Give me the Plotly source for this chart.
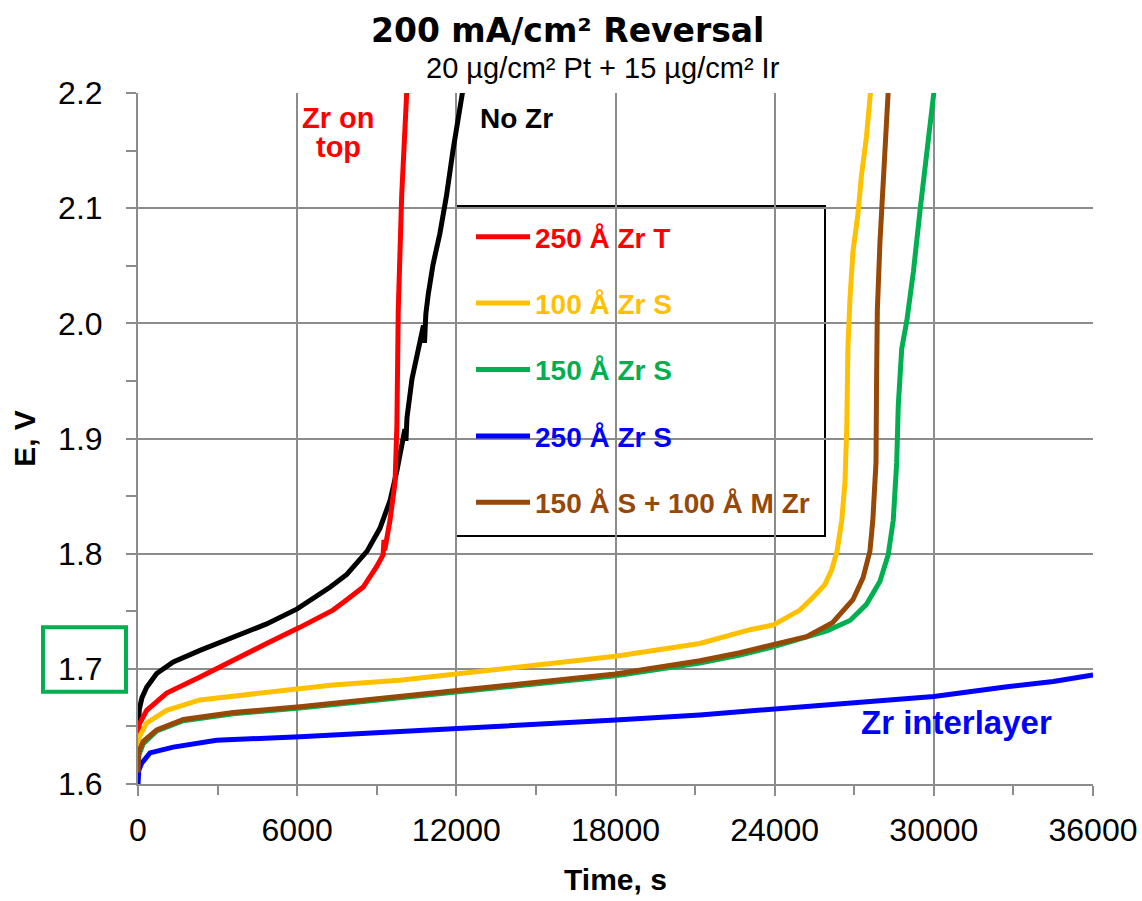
import plotly.graph_objects as go

# ---------------- data ----------------
nozr_t = [0, 50, 150, 327, 704, 1330, 2337, 3590, 4850, 6000, 6600, 7250, 7870, 8630,
          9120, 9500, 9760, 9940, 10060, 10100, 10140, 10330, 10520, 10760, 10800, 10850,
          10940, 11120, 11380, 11630, 11880, 12130, 12300]
nozr_v = [1.645, 1.665, 1.675, 1.684, 1.696, 1.706, 1.716, 1.728, 1.739, 1.752, 1.761,
          1.771, 1.782, 1.802, 1.822, 1.846, 1.872, 1.895, 1.908, 1.898, 1.918, 1.952, 1.972,
          1.998, 1.983, 2.008, 2.025, 2.051, 2.078, 2.111, 2.151, 2.184, 2.21]

zrT_t = [0, 50, 327, 1080, 2337, 3590, 4850, 6100, 7350, 7870, 8490, 9000, 9240, 9270, 9300,
         9500, 9690, 9760, 9810, 9940, 10150]
zrT_v = [1.640, 1.652, 1.664, 1.679, 1.693, 1.708, 1.722, 1.736, 1.751, 1.760, 1.771, 1.789,
         1.799, 1.812, 1.803, 1.829, 1.862, 1.912, 2.011, 2.111, 2.21]

zr100S_t = [0, 30, 327, 1080, 2337, 4850, 7350, 9860, 12000, 15000, 18000, 21180, 23070, 23940,
            24950, 25440, 25890, 26150, 26350, 26530, 26650, 26720, 26760, 26840, 26950, 27140,
            27270, 27460, 27650]
zr100S_v = [1.625, 1.640, 1.653, 1.664, 1.673, 1.680, 1.686, 1.690, 1.6955, 1.703, 1.711, 1.722,
            1.734, 1.738, 1.751, 1.762, 1.773, 1.786, 1.802, 1.829, 1.862, 1.912, 1.978, 2.022,
            2.062, 2.095, 2.128, 2.162, 2.21]

zr150S_t = [0, 30, 200, 704, 1710, 3590, 6100, 8630, 9860, 12000, 15000, 18000, 21180, 22690,
            23940, 25200, 25970, 26840, 27460, 27970, 28280, 28470, 28600, 28660, 28790, 28980,
            29230, 29480, 29730, 30050]
zr150S_v = [1.605, 1.625, 1.635, 1.646, 1.655, 1.661, 1.666, 1.672, 1.675, 1.680, 1.687, 1.694,
            1.705, 1.712, 1.719, 1.727, 1.733, 1.742, 1.756, 1.776, 1.799, 1.829, 1.879, 1.929,
            1.978, 2.002, 2.045, 2.098, 2.144, 2.21]

zr250S_t = [0, 30, 137, 452, 1330, 2960, 6100, 9860, 12000, 15000, 18000, 21180, 22690, 24000,
            27000, 30000, 32760, 34500, 36000]
zr250S_v = [1.600, 1.612, 1.618, 1.627, 1.632, 1.638, 1.641, 1.6454, 1.6474, 1.651, 1.6555,
            1.660, 1.6628, 1.665, 1.670, 1.676, 1.6845, 1.689, 1.6946]

zrSM_t = [0, 30, 200, 704, 1710, 3590, 6100, 8630, 9860, 12000, 15000, 18000, 21180, 22690,
          23940, 25200, 26180, 26950, 27330, 27590, 27700, 27820, 27840, 27870, 27970, 28090,
          28200, 28300]
zrSM_v = [1.610, 1.628, 1.637, 1.647, 1.656, 1.662, 1.667, 1.673, 1.676, 1.681, 1.688, 1.6955,
          1.707, 1.714, 1.721, 1.728, 1.740, 1.760, 1.779, 1.802, 1.829, 1.879, 1.945, 2.011,
          2.071, 2.118, 2.162, 2.21]

series = [
    ("250 Å Zr T", zrT_t, zrT_v, "#FF0000"),
    ("100 Å Zr S", zr100S_t, zr100S_v, "#FFC000"),
    ("150 Å Zr S", zr150S_t, zr150S_v, "#00B050"),
    ("250 Å Zr S", zr250S_t, zr250S_v, "#0000FF"),
    ("150 Å S + 100 Å M Zr", zrSM_t, zrSM_v, "#974706"),
]

x_ticks = [0, 6000, 12000, 18000, 24000, 30000, 36000]
y_ticks = [1.6, 1.7, 1.8, 1.9, 2.0, 2.1, 2.2]

# ---------------- layout helpers (pixel -> paper) ----------------
L, R, T, B = 138, 1093, 93, 784
PW, PH = R - L, B - T


def px(xp):
    return (xp - L) / PW


def py(yp):
    return (B - yp) / PH


GRID = "#8c8c8c"
fig = go.Figure()

fig.add_trace(go.Scatter(x=nozr_t, y=nozr_v, mode="lines", name="No Zr",
                         line=dict(color="#000000", width=5), showlegend=False))

for i, (name, t, v, col) in enumerate(series):
    fig.add_trace(go.Scatter(
        x=t, y=v, mode="lines",
        name=f"<span style='color:{col}'><b>{name}</b></span>",
        legendgroup=f"g{i}",
        line=dict(color=col, width=5)))

fig.update_layout(
    width=1142, height=901,
    margin=dict(l=L, r=1142 - R, t=T, b=901 - B, autoexpand=False),
    plot_bgcolor="white", paper_bgcolor="white",
    font=dict(family="Liberation Sans", color="black"),
    legend=dict(
        x=px(471), y=py(212), xanchor="left", yanchor="top",
        bgcolor="rgba(0,0,0,0)", borderwidth=0,
        font=dict(family="Liberation Sans", size=28),
        tracegroupgap=27, traceorder="grouped", itemwidth=54,
    ),
    xaxis=dict(
        range=[0, 36000], tickvals=x_ticks, ticktext=[str(v) for v in x_ticks],
        automargin=False,
        showgrid=True, gridcolor=GRID, gridwidth=2,
        showline=True, linecolor=GRID, linewidth=2,
        ticks="outside", ticklen=10, tickwidth=2, tickcolor=GRID,
        tickfont=dict(family="Liberation Sans", size=32),
        ticklabelstandoff=7,
        minor=dict(dtick=3000, tick0=0, ticks="outside", ticklen=9, tickwidth=2,
                   tickcolor=GRID, showgrid=False),
        zeroline=False,
        title=dict(text="<b>Time, s</b>", font=dict(family="Liberation Sans", size=30),
                   standoff=22),
    ),
    yaxis=dict(
        range=[1.6, 2.2], tickvals=y_ticks, ticktext=[f"{v:.1f}" for v in y_ticks],
        automargin=False,
        showgrid=True, gridcolor=GRID, gridwidth=2,
        showline=True, linecolor=GRID, linewidth=2,
        ticks="outside", ticklen=10, tickwidth=2, tickcolor=GRID,
        tickfont=dict(family="Liberation Sans", size=32),
        ticklabelstandoff=17,
        minor=dict(dtick=0.05, tick0=1.6, ticks="outside", ticklen=10, tickwidth=2,
                   tickcolor=GRID, showgrid=False),
        zeroline=False,
        title=dict(text="<b>E, V</b>", font=dict(family="Liberation Sans", size=30),
                   standoff=14),
    ),
)

# Legend frame (white box over the grid, under the curves)
fig.add_shape(type="rect", xref="paper", yref="paper",
              x0=px(456), x1=px(825), y0=py(536), y1=py(206),
              line=dict(color="black", width=2), fillcolor="white", layer="between")

# Titles
fig.add_annotation(text="<b>200 mA/cm² Reversal</b>", xref="paper", yref="paper",
                   x=px(567), y=py(30), showarrow=False,
                   font=dict(family="DejaVu Sans", size=33, color="black"),
                   xanchor="center", yanchor="middle")
fig.add_annotation(text="20 µg/cm² Pt + 15 µg/cm² Ir", xref="paper", yref="paper",
                   x=px(603), y=py(68), showarrow=False,
                   font=dict(family="Liberation Sans", size=29, color="black"),
                   xanchor="center", yanchor="middle")

# In-plot labels
fig.add_annotation(text="<b>Zr on</b>", x=7576, y=2.178, showarrow=False,
                   font=dict(family="Liberation Sans", size=29, color="#FF0000"),
                   xanchor="center", yanchor="middle")
fig.add_annotation(text="<b>top</b>", x=7576, y=2.153, showarrow=False,
                   font=dict(family="Liberation Sans", size=29, color="#FF0000"),
                   xanchor="center", yanchor="middle")
fig.add_annotation(text="<b>No Zr</b>", x=14250, y=2.178, showarrow=False,
                   font=dict(family="Liberation Sans", size=28, color="black"),
                   xanchor="center", yanchor="middle")
fig.add_annotation(text="<b>Zr interlayer</b>", x=30870, y=1.6535, showarrow=False,
                   font=dict(family="Liberation Sans", size=33, color="#0000FF"),
                   xanchor="center", yanchor="middle")

# Green highlight box around the 1.7 tick label
fig.add_shape(type="rect", xref="paper", yref="y",
              x0=px(43), x1=px(126), y0=1.680, y1=1.736,
              line=dict(color="#00B050", width=4), fillcolor="rgba(0,0,0,0)")

fig.write_html("out.html")
